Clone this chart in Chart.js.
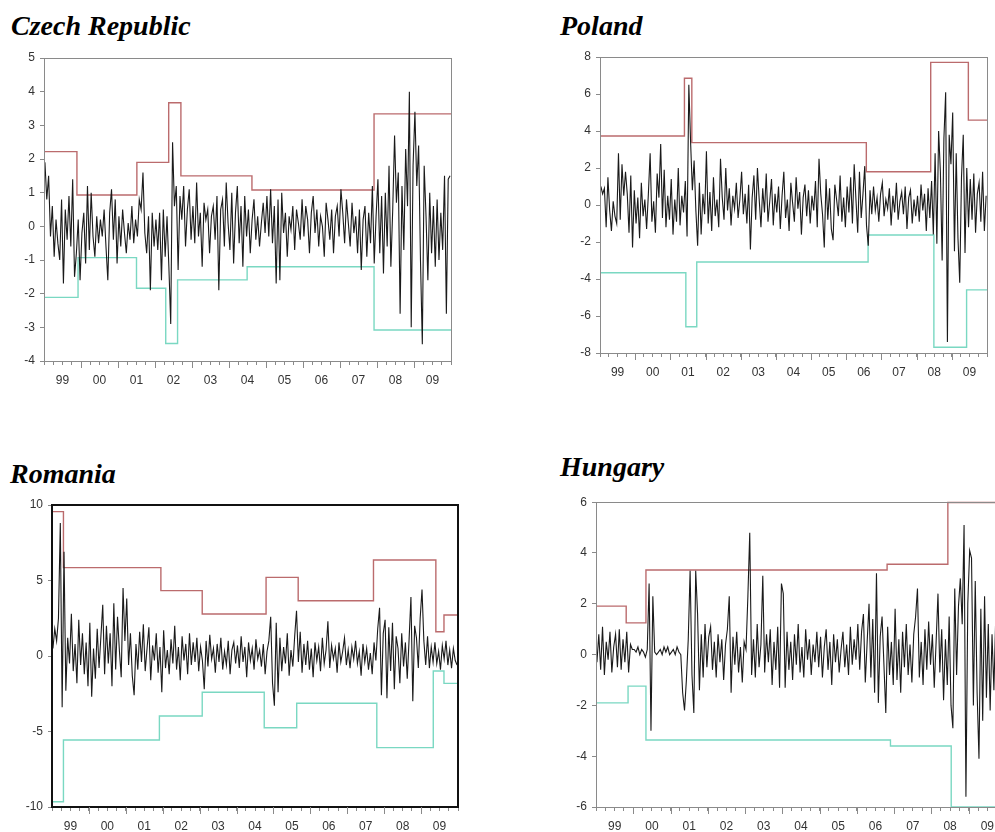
<!DOCTYPE html>
<html><head><meta charset="utf-8">
<script src="https://cdn.jsdelivr.net/npm/chart.js@4.4.1/dist/chart.umd.min.js"></script>
<style>
html,body{margin:0;padding:0;background:#fff;width:995px;height:832px;overflow:hidden}
body{position:relative}
.title{position:absolute;font-family:"Liberation Serif","Times New Roman",serif;font-weight:bold;font-style:italic;font-size:28px;line-height:28px;color:#000;white-space:nowrap}
canvas{position:absolute}
</style></head><body>
<div class="title" style="left:11px;top:12px">Czech Republic</div>
<div class="title" style="left:560px;top:12px">Poland</div>
<div class="title" style="left:10px;top:460px">Romania</div>
<div class="title" style="left:560px;top:453px">Hungary</div>
<canvas id="cz" width="470" height="360" style="left:0px;top:40px"></canvas>
<canvas id="pl" width="455" height="360" style="left:540px;top:40px"></canvas>
<canvas id="ro" width="470" height="342" style="left:0px;top:490px"></canvas>
<canvas id="hu" width="480" height="342" style="left:540px;top:490px"></canvas>
<script>
// ---- data ----
const YEAR_LABELS = ['99','00','01','02','03','04','05','06','07','08','09'];
const START_YEAR = 1999, END_YEAR = 2010, POINTS_PER_YEAR = 20;

const czechReturns = [
 1.9,0.8,1.5,-0.3,0.6,-0.9,0.2,-0.5,-1.0,0.8,-1.7,0.5,-0.4,0.9,-0.6,1.4,-1.5,-0.8,0.2,-1.6,
 -0.2,0.4,-1.1,1.2,-0.7,1.0,-0.3,-0.9,0.3,-0.5,0.2,-0.3,0.5,-0.6,-1.6,0.4,1.1,-0.4,0.8,-1.1,
 0.3,-0.6,0.5,-0.2,-0.8,0.1,-0.4,0.6,-0.5,0.2,-0.3,0.8,0.5,1.6,-0.2,-0.8,0.3,-1.9,0.4,-0.6,
 0.2,-0.7,0.4,-1.6,0.5,-0.9,0.3,-1.2,-2.9,2.5,0.6,1.2,-1.3,0.9,0.2,1.2,-0.6,0.5,1.1,-0.4,
 0.6,-0.5,1.3,-0.3,0.4,-1.2,0.7,0.2,0.5,-0.8,0.3,0.6,-0.4,0.9,-1.9,0.5,0.8,-0.6,1.3,0.1,
 -0.7,1.0,-1.1,0.4,1.2,-0.5,0.6,-1.2,0.9,-0.3,0.5,-0.8,0.2,0.8,-0.4,0.3,-0.6,0.1,0.7,-0.2,
 0.9,-0.3,1.1,-0.5,0.6,-1.7,0.8,-1.6,1.0,-0.2,0.4,-0.9,0.3,-0.1,0.6,-0.7,0.5,0.1,-0.4,0.8,
 -0.3,0.6,0.2,-0.8,0.4,0.9,-0.2,0.5,-0.6,0.3,0.0,-0.9,0.7,0.2,-0.4,0.5,-0.8,0.3,0.6,-0.3,
 1.1,0.4,-0.5,0.8,0.1,-0.6,0.7,-0.2,0.3,-0.8,0.5,-1.3,0.2,0.6,-0.9,0.4,-0.5,1.2,-1.1,0.3,
 1.4,-0.8,0.9,-1.4,1.0,-0.6,1.8,-1.2,0.5,2.7,0.7,1.6,-2.6,1.2,-0.7,2.3,0.6,4.0,-3.0,1.8,
 3.4,1.2,2.4,-1.0,-3.5,1.8,0.3,-1.6,1.0,-0.8,0.6,-1.2,0.8,-1.0,0.4,-0.7,1.5,-2.6,1.4,1.5
];
const czechUpperX = [1999.0,1999.89,2001.51,2002.37,2002.70,2004.62,2007.92,2010.0];
const czechUpperY = [2.22,0.93,1.90,3.67,1.50,1.08,3.34,3.34];
const czechLowerX = [1999.0,1999.92,2001.50,2002.29,2002.61,2004.49,2007.92,2010.0];
const czechLowerY = [-2.11,-0.93,-1.84,-3.48,-1.59,-1.20,-3.08,-3.08];

const polandReturns = [
 1.0,0.6,0.9,-1.2,1.5,-0.3,-1.4,0.2,-0.6,-1.0,2.8,-0.8,2.2,0.5,1.8,0.6,-1.5,1.6,-2.3,0.8,
 -1.0,0.4,-1.8,1.2,-0.6,0.3,-1.3,0.6,2.8,-0.9,0.2,-1.5,1.7,0.4,3.3,-0.7,1.9,-1.2,0.5,-0.8,
 1.4,-1.6,0.3,-0.9,2.0,-1.1,0.5,-0.4,1.3,-1.7,6.5,3.4,0.8,2.4,-0.3,-2.2,1.2,-1.6,0.6,-0.5,
 2.9,-1.0,0.7,-1.4,1.5,-0.6,0.3,-1.2,2.5,0.4,-0.8,2.0,-0.3,0.9,-1.1,0.5,-0.2,1.2,-0.7,0.3,
 1.8,-0.5,0.6,-1.0,1.1,-2.4,0.4,1.6,-0.8,2.0,0.3,-1.2,0.9,-0.4,1.7,-0.9,0.2,1.4,-1.1,0.6,
 -0.4,1.0,-1.3,0.5,1.8,-0.7,0.3,-1.4,1.2,0.1,-0.9,1.5,-0.2,0.7,-1.6,0.4,1.1,-0.6,0.8,-1.0,
 0.5,-0.3,1.3,-1.2,2.5,0.6,-0.5,-2.3,1.4,-0.8,0.9,-1.3,-1.9,1.1,0.3,-0.6,1.6,-0.9,0.4,-1.2,
 1.0,-0.4,1.5,-1.0,2.2,0.3,-1.5,1.8,-0.7,0.6,2.1,-1.1,-2.2,0.8,-0.5,1.0,-0.3,0.4,-0.9,0.6,
 1.2,-0.6,0.3,-0.2,0.9,-1.1,0.5,-0.4,1.2,-0.8,0.2,0.7,-0.5,1.0,-1.3,0.4,0.8,-1.0,0.3,-0.6,
 0.5,-0.9,1.1,-0.3,0.6,-1.4,0.9,-0.7,1.3,-1.6,2.8,-2.1,4.0,1.8,-3.0,3.6,6.1,-7.4,3.8,2.2,
 5.0,-2.5,2.8,-1.8,-4.2,1.5,3.8,-2.6,2.0,-1.2,1.4,-0.8,1.7,-1.5,0.6,1.2,-0.9,1.8,-1.4,0.5
];
const polandUpperX = [1999.0,2001.40,2001.61,2006.57,2008.40,2009.47,2010.0];
const polandUpperY = [3.73,6.85,3.37,1.80,7.71,4.59,4.59];
const polandLowerX = [1999.0,2001.44,2001.75,2006.62,2008.49,2009.42,2010.0];
const polandLowerY = [-3.66,-6.58,-3.08,-1.62,-7.69,-4.59,-4.59];

const romaniaReturns = [
 0.5,1.8,1.0,2.5,8.8,-3.4,6.9,-2.3,1.2,-0.5,2.8,-1.0,0.8,-1.8,2.4,-0.6,1.5,-1.2,0.9,-2.0,
 2.2,-2.7,0.5,-1.5,1.8,-0.8,1.3,3.4,-1.2,2.0,-0.5,1.5,-2.0,3.5,-0.9,2.6,0.4,-1.4,4.5,1.0,
 3.8,-0.6,1.5,-1.3,-2.6,0.8,-0.9,1.6,-0.4,2.1,-1.0,0.5,1.9,-1.6,0.7,-0.3,1.5,-1.1,0.6,-2.4,
 1.7,-0.8,0.4,-1.2,1.1,-0.5,2.0,-0.9,0.6,-1.6,1.3,-0.3,0.8,-1.2,1.5,-0.6,0.9,-0.4,1.2,-1.0,
 0.6,-0.3,-2.2,1.0,-0.7,1.4,-0.2,0.5,-1.1,0.8,-0.4,1.2,-0.9,0.3,-0.6,1.0,-1.2,0.4,0.9,-0.5,
 0.7,-0.8,1.3,-0.4,0.6,-1.4,0.9,-0.3,0.5,-0.9,1.1,-0.2,0.4,-0.7,0.8,-1.2,0.3,1.0,2.6,-1.8,
 -3.3,2.2,-2.4,1.2,-1.0,0.6,-0.5,1.5,-1.3,0.4,-0.7,1.3,3.0,-0.4,1.6,-1.1,0.8,-0.6,1.0,-0.9,
 0.5,-1.4,0.9,-0.3,0.6,-1.0,1.2,-0.5,0.4,2.3,-0.8,0.7,-0.2,0.5,-1.1,0.9,-0.4,0.3,1.2,-0.6,
 0.4,-0.8,0.6,-0.2,1.0,-0.5,0.3,-1.3,0.8,-0.4,0.5,-0.9,0.2,-1.2,0.9,-0.3,1.8,3.2,-2.6,1.5,
 2.4,-2.8,1.9,-1.0,2.2,-2.2,1.3,0.5,-1.8,1.5,-0.7,0.9,-1.5,1.1,3.9,-3.0,2.0,1.2,-0.8,2.5,
 4.4,1.0,-0.6,1.3,-0.8,0.6,-0.4,0.9,-0.5,0.3,-0.9,0.7,-0.2,1.0,-0.6,0.4,-0.8,0.5,-0.3,-0.6
];
const romaniaUpperX = [1999.0,1999.31,2001.95,2003.07,2004.80,2005.67,2007.71,2009.40,2009.62,2010.0];
const romaniaUpperY = [9.56,5.85,4.33,2.78,5.21,3.66,6.36,1.61,2.72,2.72];
const romaniaLowerX = [1999.0,1999.31,2001.91,2003.07,2004.75,2005.63,2007.80,2009.33,2009.62,2010.0];
const romaniaLowerY = [-9.65,-5.56,-3.97,-2.40,-4.75,-3.13,-6.07,-0.99,-1.81,-1.81];

const hungaryReturns = [
 -0.3,0.8,-0.6,1.1,-0.8,0.5,-0.2,0.9,-0.7,0.3,0.8,-0.5,1.0,-0.6,0.6,-0.3,0.9,-0.7,0.4,0.2,
 0.2,0.1,0.3,0.0,0.2,0.1,-0.1,0.2,2.8,-3.0,2.3,0.1,0.0,0.1,0.2,0.0,0.3,0.1,0.3,0.0,
 0.1,0.2,0.0,0.3,0.1,0.0,-1.5,-2.2,-1.0,0.6,3.3,-0.8,-2.3,3.3,1.6,-1.4,0.8,-0.9,1.2,-0.5,
 0.7,1.1,-0.6,0.5,-0.9,0.8,-0.3,0.6,-1.0,0.4,1.0,2.3,-1.5,0.7,-0.4,0.9,-0.7,0.3,-1.1,0.5,
 0.2,2.3,4.8,-0.8,0.6,-0.9,1.2,-0.5,0.4,3.1,-0.7,0.8,-0.3,1.0,-1.2,0.5,-0.6,1.1,-1.3,2.8,
 2.4,-1.3,0.9,-0.6,0.5,-1.0,0.8,-0.4,1.2,-0.7,0.3,-0.9,1.0,-0.2,0.6,-0.8,0.4,-0.3,0.9,-0.5,
 0.7,-0.9,0.3,1.0,-0.6,0.5,-1.2,0.8,-0.3,0.6,-0.7,0.2,0.9,-0.5,0.4,-0.8,1.1,-0.4,0.6,-0.2,
 1.2,-0.6,0.9,1.6,-1.1,0.5,2.0,-0.9,1.4,-1.5,3.2,-1.9,0.7,1.5,-0.4,-2.3,1.1,-0.8,0.5,-1.2,
 1.8,-1.0,0.6,-1.5,0.9,-0.5,1.2,-0.8,0.4,-1.1,0.8,1.5,2.6,-0.9,0.5,-1.2,1.0,-0.6,1.3,-0.4,
 0.8,-1.3,0.5,2.4,-0.7,1.0,-1.8,0.6,-1.2,1.5,-2.0,-2.9,2.6,-0.8,1.9,3.0,1.2,5.1,-5.6,2.0,
 4.1,3.8,-2.0,2.9,-1.5,-4.1,1.8,-2.6,2.3,-1.7,1.2,-2.2,0.8,-1.4,1.5,-0.9,1.0,-1.6,0.6,1.2
];
const hungaryUpperX = [1999.0,1999.81,2000.34,2006.81,2008.44,2010.0];
const hungaryUpperY = [1.91,1.25,3.33,3.56,5.99,5.99];
const hungaryLowerX = [1999.0,1999.86,2000.34,2006.90,2008.53,2010.0];
const hungaryLowerY = [-1.90,-1.24,-3.36,-3.60,-6.00,-6.00];

// ---- styling ----
const RED = '#bb6b6d', TEAL = '#7ad8c2', GRAY = '#8a8a8a', TXT = '#333';
const FONT = {family:'"Liberation Sans", Arial, sans-serif', size:12};

const framePlugin = {
  id:'frame',
  afterDatasetsDraw(chart, args, o){
    const a = chart.chartArea, ctx = chart.ctx;
    ctx.save();
    ctx.strokeStyle = o.color; ctx.lineWidth = o.width;
    const off = o.width % 2 ? 0.5 : 0;
    ctx.strokeRect(Math.round(a.left)+off, Math.round(a.top)+off,
                   Math.round(a.right)-Math.round(a.left), Math.round(a.bottom)-Math.round(a.top));
    // longer ticks at year boundaries
    const xs = chart.scales.x;
    ctx.strokeStyle = GRAY; ctx.lineWidth = 1;
    for (let yr = START_YEAR+1; yr < END_YEAR; yr++){
      const px = Math.round(xs.getPixelForValue(yr))+0.5;
      ctx.beginPath(); ctx.moveTo(px, a.bottom); ctx.lineTo(px, a.bottom+7); ctx.stroke();
    }
    ctx.restore();
  }
};

function makePanel(id, lay, ret, upX, upY, loX, loY, yMin, yMax, yStep, frameColor, frameWidth){
  const cv = document.getElementById(id);
  const series = ret.map((v,i)=>({x: START_YEAR + (i+0.5)/POINTS_PER_YEAR, y: v}));
  const upper = upX.map((x,i)=>({x, y: upY[i]}));
  const lower = loX.map((x,i)=>({x, y: loY[i]}));
  const quarterTicks = [];
  for (let q = START_YEAR*4; q <= END_YEAR*4; q++) quarterTicks.push({value: q/4});
  new Chart(cv, {
    type:'line',
    data:{datasets:[
      {data: series, borderColor:'#1a1a1a', borderWidth:1.1, pointRadius:0, tension:0, order:1},
      {data: upper, borderColor: RED, borderWidth:1.4, pointRadius:0, stepped:true, clip:4, order:2},
      {data: lower, borderColor: TEAL, borderWidth:1.4, pointRadius:0, stepped:true, clip:4, order:2}
    ]},
    options:{
      responsive:false, animation:false, devicePixelRatio:1,
      layout:{padding:{left:0, bottom:0, top: lay.at - lay.ct, right: lay.cl + lay.cw - lay.ar}},
      plugins:{legend:{display:false}, tooltip:{enabled:false}, title:{display:false},
               frame:{color: frameColor, width: frameWidth}},
      scales:{
        x:{type:'linear', min:START_YEAR, max:END_YEAR,
           afterBuildTicks: s => { s.ticks = quarterTicks.map(t=>({value:t.value})); },
           afterFit: s => { s.height = lay.ct + lay.ch - lay.ab; },
           ticks:{autoSkip:false, maxRotation:0, minRotation:0, padding:8, color:TXT, font:FONT,
             callback:(v)=>{ const f = v - Math.floor(v); return Math.abs(f-0.5)<1e-6 ? YEAR_LABELS[Math.floor(v)-START_YEAR] : ''; }},
           grid:{drawOnChartArea:false, drawTicks:true, tickLength:4, color:GRAY, lineWidth:1},
           border:{display:false}},
        y:{type:'linear', min:yMin, max:yMax,
           afterFit: s => { s.width = lay.al - lay.cl; },
           ticks:{stepSize:yStep, padding:5, color:TXT, font:FONT},
           grid:{drawOnChartArea:false, drawTicks:true, tickLength:4, color:GRAY, lineWidth:1},
           border:{display:false}}
      }
    },
    plugins:[framePlugin]
  });
}

makePanel('cz', {cl:0, ct:40, cw:470, ch:360, al:44, at:58, ar:451, ab:361},
  czechReturns, czechUpperX, czechUpperY, czechLowerX, czechLowerY, -4, 5, 1, GRAY, 1);
makePanel('pl', {cl:540, ct:40, cw:455, ch:360, al:600, at:57, ar:994, ab:353},
  polandReturns, polandUpperX, polandUpperY, polandLowerX, polandLowerY, -8, 8, 2, GRAY, 1);
makePanel('ro', {cl:0, ct:490, cw:470, ch:342, al:52, at:505, ar:458, ab:807},
  romaniaReturns, romaniaUpperX, romaniaUpperY, romaniaLowerX, romaniaLowerY, -10, 10, 5, '#111', 2);
makePanel('hu', {cl:540, ct:490, cw:480, ch:342, al:596, at:502, ar:1006, ab:807},
  hungaryReturns, hungaryUpperX, hungaryUpperY, hungaryLowerX, hungaryLowerY, -6, 6, 2, GRAY, 1);
</script>
</body></html>
